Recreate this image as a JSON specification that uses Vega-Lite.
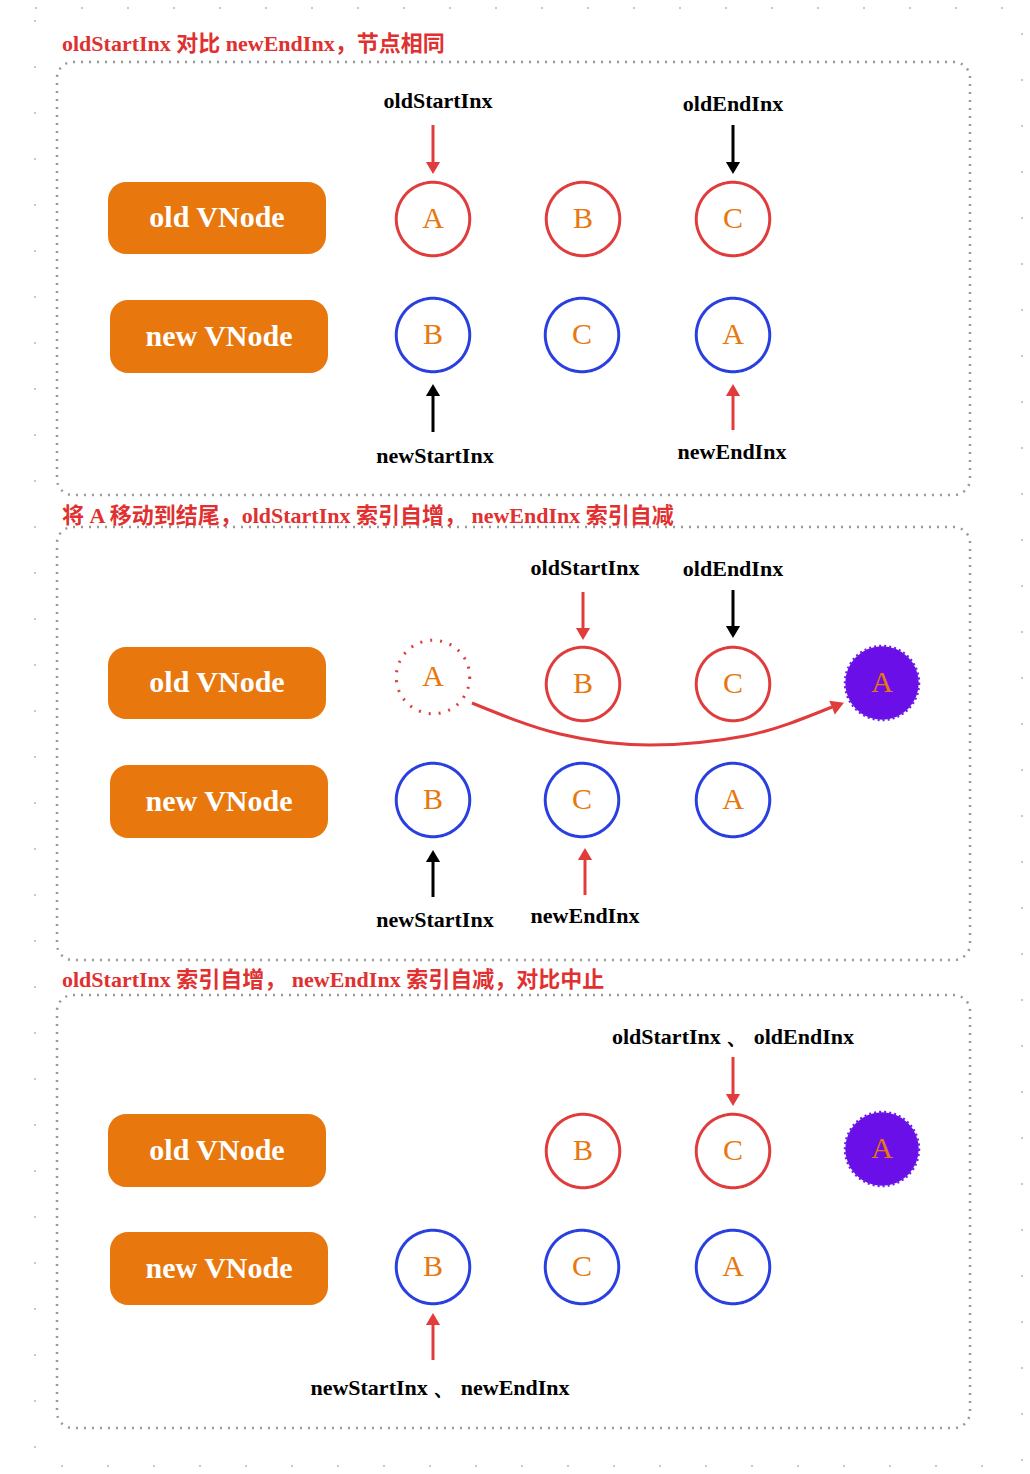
{
  "$schema": "https://vega.github.io/schema/vega-lite/v6.json",
  "width": 1030,
  "height": 1474,
  "autosize": {"type": "fit", "contains": "padding"},
  "padding": 0,
  "background": "#ffffff",
  "config": {"view": {"stroke": null}},
  "datasets": {
    "panels": [
      {"x": 57, "x2": 970, "y": 62, "y2": 495},
      {"x": 57, "x2": 970, "y": 527, "y2": 960},
      {"x": 57, "x2": 970, "y": 995, "y2": 1428}
    ],
    "pills": [
      {"label": "old VNode", "x": 108, "x2": 326, "y": 182, "y2": 254},
      {"label": "new VNode", "x": 110, "x2": 328, "y": 300, "y2": 373},
      {"label": "old VNode", "x": 108, "x2": 326, "y": 647, "y2": 719},
      {"label": "new VNode", "x": 110, "x2": 328, "y": 765, "y2": 838},
      {"label": "old VNode", "x": 108, "x2": 326, "y": 1114, "y2": 1187},
      {"label": "new VNode", "x": 110, "x2": 328, "y": 1232, "y2": 1305}
    ],
    "nodes": [
      {"letter": "A", "list": "old", "x": 433, "y": 219},
      {"letter": "B", "list": "old", "x": 583, "y": 219},
      {"letter": "C", "list": "old", "x": 733, "y": 219},
      {"letter": "B", "list": "new", "x": 433, "y": 335},
      {"letter": "C", "list": "new", "x": 582, "y": 335},
      {"letter": "A", "list": "new", "x": 733, "y": 335},
      {"letter": "A", "list": "ghost", "x": 433, "y": 677},
      {"letter": "B", "list": "old", "x": 583, "y": 684},
      {"letter": "C", "list": "old", "x": 733, "y": 684},
      {"letter": "A", "list": "moved", "x": 882, "y": 683},
      {"letter": "B", "list": "new", "x": 433, "y": 800},
      {"letter": "C", "list": "new", "x": 582, "y": 800},
      {"letter": "A", "list": "new", "x": 733, "y": 800},
      {"letter": "B", "list": "old", "x": 583, "y": 1151},
      {"letter": "C", "list": "old", "x": 733, "y": 1151},
      {"letter": "A", "list": "moved", "x": 882, "y": 1149},
      {"letter": "B", "list": "new", "x": 433, "y": 1267},
      {"letter": "C", "list": "new", "x": 582, "y": 1267},
      {"letter": "A", "list": "new", "x": 733, "y": 1267}
    ],
    "arrows": [
      {"kind": "red", "dir": "down", "x": 433, "y": 125, "y2": 168},
      {"kind": "black", "dir": "down", "x": 733, "y": 125, "y2": 168},
      {"kind": "black", "dir": "up", "x": 433, "y": 390, "y2": 432},
      {"kind": "red", "dir": "up", "x": 733, "y": 390, "y2": 430},
      {"kind": "red", "dir": "down", "x": 583, "y": 592, "y2": 634},
      {"kind": "black", "dir": "down", "x": 733, "y": 590, "y2": 632},
      {"kind": "black", "dir": "up", "x": 433, "y": 856, "y2": 897},
      {"kind": "red", "dir": "up", "x": 585, "y": 854, "y2": 895},
      {"kind": "red", "dir": "down", "x": 733, "y": 1057, "y2": 1100},
      {"kind": "red", "dir": "up", "x": 433, "y": 1319, "y2": 1360}
    ],
    "labels": [
      {"text": "oldStartInx", "x": 438, "y": 101},
      {"text": "oldEndInx", "x": 733, "y": 104},
      {"text": "newStartInx", "x": 435, "y": 456},
      {"text": "newEndInx", "x": 732, "y": 452},
      {"text": "oldStartInx", "x": 585, "y": 568},
      {"text": "oldEndInx", "x": 733, "y": 569},
      {"text": "newStartInx", "x": 435, "y": 920},
      {"text": "newEndInx", "x": 585, "y": 916},
      {"text": "oldStartInx 、 oldEndInx", "x": 733, "y": 1037},
      {"text": "newStartInx 、 newEndInx", "x": 440, "y": 1388}
    ],
    "captions": [
      {"text": "oldStartInx  对比  newEndInx，节点相同", "x": 62, "y": 44},
      {"text": "将 A 移动到结尾，oldStartInx 索引自增， newEndInx 索引自减", "x": 62, "y": 516},
      {"text": "oldStartInx 索引自增， newEndInx 索引自减，对比中止", "x": 62, "y": 980}
    ],
    "curve": [
      {"i": 1, "x": 472, "y": 703},
      {"i": 2, "x": 560, "y": 734},
      {"i": 3, "x": 650, "y": 745},
      {"i": 4, "x": 745, "y": 736},
      {"i": 5, "x": 832, "y": 707}
    ]
  },
  "encoding": {
    "x": {"field": "x", "type": "quantitative", "scale": {"domain": [0, 1030]}, "axis": null},
    "y": {"field": "y", "type": "quantitative", "scale": {"domain": [0, 1474], "reverse": true}, "axis": null}
  },
  "layer": [
    {
      "data": {"values": [{"x": 35, "x2": 1022, "y": 8, "y2": 1466}]},
      "mark": {"type": "rect", "fill": null, "stroke": "#c8c8c8", "strokeWidth": 2, "strokeDash": [2, 44]},
      "encoding": {"x2": {"field": "x2"}, "y2": {"field": "y2"}}
    },
    {
      "data": {"name": "panels"},
      "mark": {"type": "rect", "fill": null, "stroke": "#999999", "strokeWidth": 2.5, "strokeDash": [2, 6], "cornerRadius": 16},
      "encoding": {"x2": {"field": "x2"}, "y2": {"field": "y2"}}
    },
    {
      "data": {"name": "pills"},
      "mark": {"type": "rect", "fill": "#e8770e", "cornerRadius": 18},
      "encoding": {"x2": {"field": "x2"}, "y2": {"field": "y2"}}
    },
    {
      "data": {"name": "pills"},
      "transform": [{"calculate": "(datum.x + datum.x2) / 2", "as": "cx"}, {"calculate": "(datum.y + datum.y2) / 2", "as": "cy"}],
      "mark": {"type": "text", "color": "#ffffff", "font": "Liberation Serif", "fontWeight": "bold", "fontSize": 30, "baseline": "middle"},
      "encoding": {"x": {"field": "cx"}, "y": {"field": "cy"}, "text": {"field": "label"}}
    },
    {
      "data": {"name": "curve"},
      "mark": {"type": "line", "color": "#e03c3c", "strokeWidth": 3, "interpolate": "monotone"},
      "encoding": {"order": {"field": "i"}}
    },
    {
      "data": {"values": [{"x": 836, "y": 706}]},
      "mark": {"type": "point", "shape": "triangle", "filled": true, "color": "#e03c3c", "size": 220, "angle": 68, "opacity": 1},
      "encoding": {}
    },
    {
      "data": {"name": "nodes"},
      "transform": [{"filter": "datum.list != 'ghost'"}],
      "mark": {"type": "point", "shape": "circle", "size": 5400, "strokeWidth": 3, "fillOpacity": 1, "opacity": 1},
      "encoding": {
        "stroke": {"field": "list", "type": "nominal", "legend": null, "scale": {"domain": ["old", "new", "moved"], "range": ["#e03c3c", "#2a3fe0", "#6a1ee8"]}},
        "fill": {"field": "list", "type": "nominal", "legend": null, "scale": {"domain": ["old", "new", "moved"], "range": ["#ffffff", "#ffffff", "#6a0fe8"]}},
        "strokeDash": {"condition": {"test": "datum.list == 'moved'", "value": [2, 3]}, "value": [1, 0]}
      }
    },
    {
      "data": {"name": "nodes"},
      "transform": [{"filter": "datum.list == 'ghost'"}],
      "mark": {"type": "point", "shape": "circle", "size": 5400, "strokeWidth": 3, "stroke": "#e03c3c", "fill": "#ffffff", "fillOpacity": 1, "strokeDash": [2, 8], "opacity": 1},
      "encoding": {}
    },
    {
      "data": {"name": "nodes"},
      "mark": {"type": "text", "color": "#e8770e", "font": "Liberation Serif", "fontSize": 30, "baseline": "middle"},
      "encoding": {"text": {"field": "letter"}}
    },
    {
      "data": {"name": "arrows"},
      "mark": {"type": "rule", "strokeWidth": 3},
      "encoding": {
        "y2": {"field": "y2"},
        "color": {"field": "kind", "type": "nominal", "legend": null, "scale": {"domain": ["red", "black"], "range": ["#e03c3c", "#000000"]}}
      }
    },
    {
      "data": {"name": "arrows"},
      "transform": [{"calculate": "datum.dir == 'down' ? datum.y2 : datum.y", "as": "tip"}],
      "mark": {"type": "point", "filled": true, "size": 200, "opacity": 1},
      "encoding": {
        "y": {"field": "tip"},
        "shape": {"field": "dir", "type": "nominal", "legend": null, "scale": {"domain": ["down", "up"], "range": ["triangle-down", "triangle-up"]}},
        "color": {"field": "kind", "type": "nominal", "legend": null, "scale": {"domain": ["red", "black"], "range": ["#e03c3c", "#000000"]}}
      }
    },
    {
      "data": {"name": "labels"},
      "mark": {"type": "text", "color": "#000000", "font": "Liberation Serif", "fontWeight": "bold", "fontSize": 22, "baseline": "middle"},
      "encoding": {"text": {"field": "text"}}
    },
    {
      "data": {"name": "captions"},
      "mark": {"type": "text", "color": "#e03030", "font": "Liberation Serif, Noto Sans CJK SC", "fontWeight": "bold", "fontSize": 22, "align": "left", "baseline": "middle"},
      "encoding": {"text": {"field": "text"}}
    }
  ]
}
